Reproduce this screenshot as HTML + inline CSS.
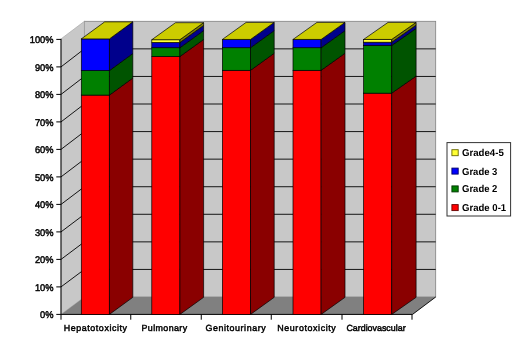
<!DOCTYPE html><html><head><meta charset="utf-8"><style>
html,body{margin:0;padding:0;background:#fff}
body{width:520px;height:360px;position:relative;overflow:hidden;font-family:"Liberation Sans",sans-serif;color:#000}
text{filter:grayscale(1);text-rendering:geometricPrecision}
.ax{stroke:#000;stroke-width:0.45px;}
</style></head><body>
<svg width="520" height="360" viewBox="0 0 520 360" style="position:absolute;left:0;top:0" font-family="Liberation Sans, sans-serif">
<rect x="84.4" y="21.30" width="351.30" height="275.7" fill="#c8c8c8" stroke="#808080" stroke-width="0.8"/>
<polygon points="61.0,38.90 84.4,21.30 84.4,297.00 61.0,314.4" fill="#c8c8c8" stroke="#a0a0a0" stroke-width="0.6"/>
<polygon points="61.0,314.4 412.5,314.4 435.7,297.00 84.4,297.00" fill="#808080"/>
<path d="M412.5,314.4 L435.7,297.00" stroke="#000" stroke-width="0.9"/>
<path d="M61.0,286.90 L84.4,269.43 H435.7" fill="none" stroke="#000" stroke-width="0.9"/>
<path d="M61.0,259.40 L84.4,241.86 H435.7" fill="none" stroke="#000" stroke-width="0.9"/>
<path d="M61.0,231.90 L84.4,214.29 H435.7" fill="none" stroke="#000" stroke-width="0.9"/>
<path d="M61.0,204.40 L84.4,186.72 H435.7" fill="none" stroke="#000" stroke-width="0.9"/>
<path d="M61.0,176.90 L84.4,159.15 H435.7" fill="none" stroke="#000" stroke-width="0.9"/>
<path d="M61.0,149.40 L84.4,131.58 H435.7" fill="none" stroke="#000" stroke-width="0.9"/>
<path d="M61.0,121.90 L84.4,104.01 H435.7" fill="none" stroke="#000" stroke-width="0.9"/>
<path d="M61.0,94.40 L84.4,76.44 H435.7" fill="none" stroke="#000" stroke-width="0.9"/>
<path d="M61.0,66.90 L84.4,48.87 H435.7" fill="none" stroke="#000" stroke-width="0.9"/>
<path d="M61.0,38.90 V314.4 H412.5" fill="none" stroke="#000" stroke-width="1"/>
<path d="M56.3,314.40 H61.0" stroke="#000" stroke-width="1"/>
<path d="M56.3,286.90 H61.0" stroke="#000" stroke-width="1"/>
<path d="M56.3,259.40 H61.0" stroke="#000" stroke-width="1"/>
<path d="M56.3,231.90 H61.0" stroke="#000" stroke-width="1"/>
<path d="M56.3,204.40 H61.0" stroke="#000" stroke-width="1"/>
<path d="M56.3,176.90 H61.0" stroke="#000" stroke-width="1"/>
<path d="M56.3,149.40 H61.0" stroke="#000" stroke-width="1"/>
<path d="M56.3,121.90 H61.0" stroke="#000" stroke-width="1"/>
<path d="M56.3,94.40 H61.0" stroke="#000" stroke-width="1"/>
<path d="M56.3,66.90 H61.0" stroke="#000" stroke-width="1"/>
<path d="M56.3,39.40 H61.0" stroke="#000" stroke-width="1"/>
<path d="M61,314.4 v5.3" stroke="#000" stroke-width="1"/>
<path d="M130.75,314.4 v5.3" stroke="#000" stroke-width="1"/>
<path d="M201.25,314.4 v5.3" stroke="#000" stroke-width="1"/>
<path d="M271.25,314.4 v5.3" stroke="#000" stroke-width="1"/>
<path d="M342,314.4 v5.3" stroke="#000" stroke-width="1"/>
<path d="M412.0,314.4 v5.3" stroke="#000" stroke-width="1"/>
<rect x="81.30" y="95.10" width="28.1" height="219.30" fill="#ff0000" stroke="#000" stroke-width="0.7"/>
<polygon points="109.40,95.10 132.80,78.05 132.80,297.35 109.40,314.40" fill="#8a0000" stroke="#000" stroke-width="0.7"/>
<rect x="81.30" y="70.58" width="28.1" height="24.52" fill="#008000" stroke="#000" stroke-width="0.7"/>
<polygon points="109.40,70.58 132.80,53.53 132.80,78.05 109.40,95.10" fill="#005400" stroke="#000" stroke-width="0.7"/>
<rect x="81.30" y="38.90" width="28.1" height="31.68" fill="#0000ff" stroke="#000" stroke-width="0.7"/>
<polygon points="109.40,38.90 132.80,21.85 132.80,53.53 109.40,70.58" fill="#00008c" stroke="#000" stroke-width="0.7"/>
<polygon points="81.30,38.90 109.40,38.90 132.80,21.85 104.70,21.85" fill="#cccc00" stroke="#000" stroke-width="0.7"/>
<rect x="151.80" y="56.53" width="28.1" height="257.87" fill="#ff0000" stroke="#000" stroke-width="0.7"/>
<polygon points="179.90,56.53 203.60,39.48 203.60,297.35 179.90,314.40" fill="#8a0000" stroke="#000" stroke-width="0.7"/>
<rect x="151.80" y="47.72" width="28.1" height="8.82" fill="#008000" stroke="#000" stroke-width="0.7"/>
<polygon points="179.90,47.72 203.60,30.67 203.60,39.48 179.90,56.53" fill="#005400" stroke="#000" stroke-width="0.7"/>
<rect x="151.80" y="42.48" width="28.1" height="5.23" fill="#0000c8" stroke="#000" stroke-width="0.7"/>
<polygon points="179.90,42.48 203.60,25.43 203.60,30.67 179.90,47.72" fill="#00008c" stroke="#000" stroke-width="0.7"/>
<rect x="151.80" y="39.73" width="28.1" height="2.75" fill="#ffff33" stroke="#000" stroke-width="0.7"/>
<polygon points="179.90,39.73 203.60,22.68 203.60,25.43 179.90,42.48" fill="#808000" stroke="#000" stroke-width="0.7"/>
<polygon points="151.80,39.73 179.90,39.73 203.60,22.68 175.50,22.68" fill="#cccc00" stroke="#000" stroke-width="0.7"/>
<rect x="222.40" y="70.31" width="28.1" height="244.09" fill="#ff0000" stroke="#000" stroke-width="0.7"/>
<polygon points="250.50,70.31 274.20,53.26 274.20,297.35 250.50,314.40" fill="#8a0000" stroke="#000" stroke-width="0.7"/>
<rect x="222.40" y="47.72" width="28.1" height="22.59" fill="#008000" stroke="#000" stroke-width="0.7"/>
<polygon points="250.50,47.72 274.20,30.67 274.20,53.26 250.50,70.31" fill="#005400" stroke="#000" stroke-width="0.7"/>
<rect x="222.40" y="39.45" width="28.1" height="8.26" fill="#0000ff" stroke="#000" stroke-width="0.7"/>
<polygon points="250.50,39.45 274.20,22.40 274.20,30.67 250.50,47.72" fill="#00008c" stroke="#000" stroke-width="0.7"/>
<polygon points="222.40,39.45 250.50,39.45 274.20,22.40 246.10,22.40" fill="#cccc00" stroke="#000" stroke-width="0.7"/>
<rect x="293.00" y="70.31" width="28.1" height="244.09" fill="#ff0000" stroke="#000" stroke-width="0.7"/>
<polygon points="321.10,70.31 345.00,53.26 345.00,297.35 321.10,314.40" fill="#8a0000" stroke="#000" stroke-width="0.7"/>
<rect x="293.00" y="47.72" width="28.1" height="22.59" fill="#008000" stroke="#000" stroke-width="0.7"/>
<polygon points="321.10,47.72 345.00,30.67 345.00,53.26 321.10,70.31" fill="#005400" stroke="#000" stroke-width="0.7"/>
<rect x="293.00" y="39.45" width="28.1" height="8.26" fill="#0000ff" stroke="#000" stroke-width="0.7"/>
<polygon points="321.10,39.45 345.00,22.40 345.00,30.67 321.10,47.72" fill="#00008c" stroke="#000" stroke-width="0.7"/>
<polygon points="293.00,39.45 321.10,39.45 345.00,22.40 316.90,22.40" fill="#cccc00" stroke="#000" stroke-width="0.7"/>
<rect x="363.60" y="93.17" width="28.1" height="221.23" fill="#ff0000" stroke="#000" stroke-width="0.7"/>
<polygon points="391.70,93.17 416.10,76.12 416.10,297.35 391.70,314.40" fill="#8a0000" stroke="#000" stroke-width="0.7"/>
<rect x="363.60" y="45.51" width="28.1" height="47.66" fill="#008000" stroke="#000" stroke-width="0.7"/>
<polygon points="391.70,45.51 416.10,28.46 416.10,76.12 391.70,93.17" fill="#005400" stroke="#000" stroke-width="0.7"/>
<rect x="363.60" y="42.21" width="28.1" height="3.31" fill="#0000c8" stroke="#000" stroke-width="0.7"/>
<polygon points="391.70,42.21 416.10,25.16 416.10,28.46 391.70,45.51" fill="#00008c" stroke="#000" stroke-width="0.7"/>
<rect x="363.60" y="39.45" width="28.1" height="2.75" fill="#ffff33" stroke="#000" stroke-width="0.7"/>
<polygon points="391.70,39.45 416.10,22.40 416.10,25.16 391.70,42.21" fill="#808000" stroke="#000" stroke-width="0.7"/>
<polygon points="363.60,39.45 391.70,39.45 416.10,22.40 388.00,22.40" fill="#cccc00" stroke="#000" stroke-width="0.7"/>
<rect x="447" y="142.6" width="63.6" height="73.4" fill="#fff" stroke="#333" stroke-width="1"/>
<rect x="451.9" y="149.70" width="6.3" height="6.0" fill="#ffff33" stroke="#666600" stroke-width="0.9"/>
<text x="462" y="156.20" font-size="10" font-weight="bold" textLength="41.8" lengthAdjust="spacingAndGlyphs">Grade4-5</text>
<rect x="451.9" y="168.10" width="6.3" height="6.0" fill="#0000ff" stroke="#000066" stroke-width="0.9"/>
<text x="462" y="174.60" font-size="10" font-weight="bold" textLength="35.4" lengthAdjust="spacingAndGlyphs">Grade 3</text>
<rect x="451.9" y="185.90" width="6.3" height="6.0" fill="#008000" stroke="#003300" stroke-width="0.9"/>
<text x="462" y="192.40" font-size="10" font-weight="bold" textLength="35.4" lengthAdjust="spacingAndGlyphs">Grade 2</text>
<rect x="451.9" y="204.60" width="6.3" height="6.0" fill="#ff0000" stroke="#660000" stroke-width="0.9"/>
<text x="462" y="211.10" font-size="10" font-weight="bold" textLength="44.2" lengthAdjust="spacingAndGlyphs">Grade 0-1</text>
<text class="ax" transform="translate(53.5,317.75) scale(0.96,1)" font-size="9.7" text-anchor="end">0%</text>
<text class="ax" transform="translate(53.5,290.75) scale(0.96,1)" font-size="9.7" text-anchor="end">10%</text>
<text class="ax" transform="translate(53.5,262.75) scale(0.96,1)" font-size="9.7" text-anchor="end">20%</text>
<text class="ax" transform="translate(53.5,235.75) scale(0.96,1)" font-size="9.7" text-anchor="end">30%</text>
<text class="ax" transform="translate(53.5,207.75) scale(0.96,1)" font-size="9.7" text-anchor="end">40%</text>
<text class="ax" transform="translate(53.5,180.75) scale(0.96,1)" font-size="9.7" text-anchor="end">50%</text>
<text class="ax" transform="translate(53.5,152.75) scale(0.96,1)" font-size="9.7" text-anchor="end">60%</text>
<text class="ax" transform="translate(53.5,125.75) scale(0.96,1)" font-size="9.7" text-anchor="end">70%</text>
<text class="ax" transform="translate(53.5,97.75) scale(0.96,1)" font-size="9.7" text-anchor="end">80%</text>
<text class="ax" transform="translate(53.5,70.75) scale(0.96,1)" font-size="9.7" text-anchor="end">90%</text>
<text class="ax" transform="translate(53.5,42.75) scale(0.96,1)" font-size="9.7" text-anchor="end">100%</text>
<text class="ax" x="63.75" y="331.2" font-size="8.9" textLength="63.25" lengthAdjust="spacing">Hepatotoxicity</text>
<text class="ax" x="141.5" y="331.2" font-size="8.9" textLength="45.6" lengthAdjust="spacing">Pulmonary</text>
<text class="ax" x="205.6" y="331.2" font-size="8.9" textLength="60.0" lengthAdjust="spacing">Genitourinary</text>
<text class="ax" x="277.2" y="331.2" font-size="8.9" textLength="58.6" lengthAdjust="spacing">Neurotoxicity</text>
<text class="ax" x="346.4" y="331.2" font-size="8.9" textLength="59.2" lengthAdjust="spacing">Cardiovascular</text>
</svg>
</body></html>
